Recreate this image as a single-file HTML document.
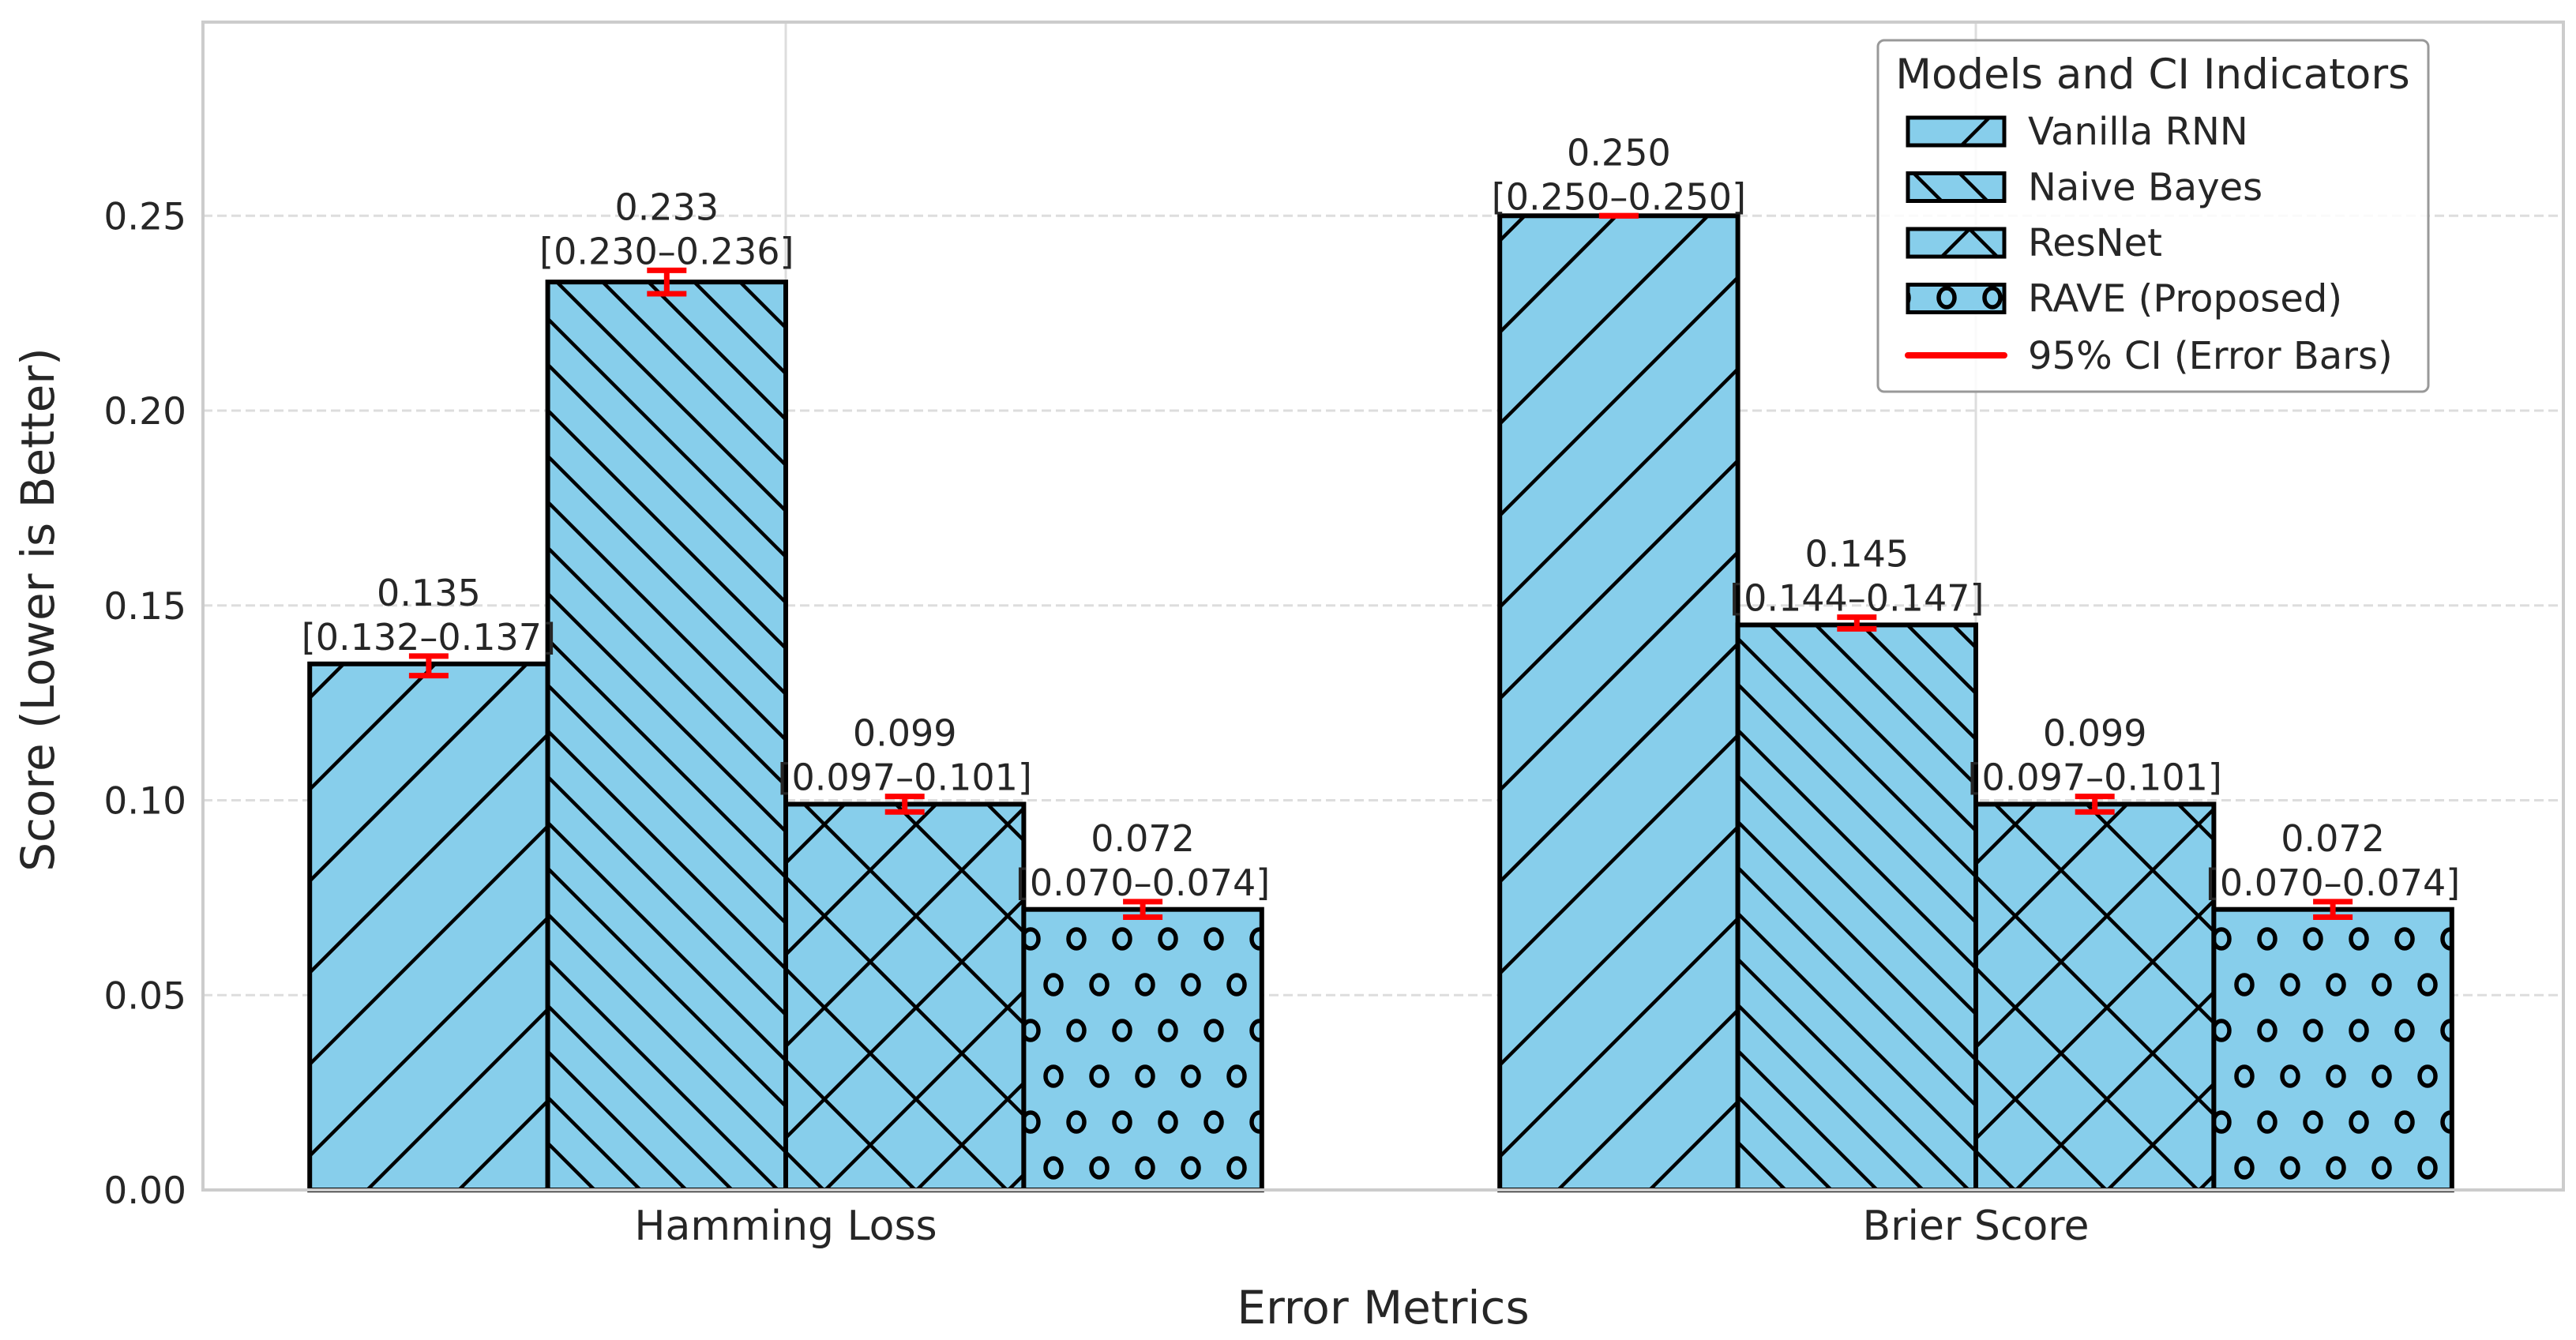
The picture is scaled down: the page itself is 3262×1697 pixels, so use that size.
<!DOCTYPE html>
<html><head><meta charset="utf-8">
<style>
html,body{margin:0;padding:0;background:#fff;}
svg{display:block;font-family:"DejaVu Sans","Liberation Sans",sans-serif;}
</style></head>
<body>
<svg id="chart" width="3262" height="1697" viewBox="0 0 3262 1697" xmlns="http://www.w3.org/2000/svg">
<defs>
<pattern id="h-slash" patternUnits="userSpaceOnUse" width="116" height="116">
<rect width="116" height="116" fill="#87CEEB"/>
<path d="M0,116 L116,0 M-12,12 L12,-12 M104,128 L128,104" stroke="#000" stroke-width="4.5"/>
</pattern>
<pattern id="h-back" patternUnits="userSpaceOnUse" width="58" height="58">
<rect width="58" height="58" fill="#87CEEB"/>
<path d="M0,0 L58,58 M-12,46 L12,70 M46,-12 L70,12" stroke="#000" stroke-width="4.5"/>
</pattern>
<pattern id="h-x" patternUnits="userSpaceOnUse" width="116" height="116">
<rect width="116" height="116" fill="#87CEEB"/>
<path d="M0,116 L116,0 M-12,12 L12,-12 M104,128 L128,104 M0,0 L116,116 M-12,104 L12,128 M104,-12 L128,12" stroke="#000" stroke-width="4.5"/>
</pattern>
<pattern id="h-o" patternUnits="userSpaceOnUse" width="58" height="116">
<rect width="58" height="116" fill="#87CEEB"/>
<ellipse cx="29" cy="29" rx="10" ry="12" fill="none" stroke="#000" stroke-width="5.5"/>
<ellipse cx="0" cy="87" rx="10" ry="12" fill="none" stroke="#000" stroke-width="5.5"/>
<ellipse cx="58" cy="87" rx="10" ry="12" fill="none" stroke="#000" stroke-width="5.5"/>
</pattern>
</defs>
<g id="grid"></g>
<g id="bars"></g>
<g id="labels"></g>
<g id="axes"></g>
<g id="legend"></g>
</svg>
<script>
const categories = ["Hamming Loss", "Brier Score"];
const models = ["Vanilla RNN", "Naive Bayes", "ResNet", "RAVE (Proposed)"];
const valsVanilla = [0.135, 0.250];
const valsNaive = [0.233, 0.145];
const valsResNet = [0.099, 0.099];
const valsRave = [0.072, 0.072];
const loVanilla = [0.132, 0.250], hiVanilla = [0.137, 0.250];
const loNaive = [0.230, 0.144], hiNaive = [0.236, 0.147];
const loResNet = [0.097, 0.097], hiResNet = [0.101, 0.101];
const loRave = [0.070, 0.070], hiRave = [0.074, 0.074];
const yTicks = [0.00, 0.05, 0.10, 0.15, 0.20, 0.25];

const NS = "http://www.w3.org/2000/svg";
const L = 257, R = 3246, T = 28, B = 1507;
const yMax = 0.2997;
function xs(v){ return 995 + v * 1507; }
function ys(v){ return B - v / yMax * (B - T); }
function mk(tag, attrs, parent, text){
  const e = document.createElementNS(NS, tag);
  for (const k in attrs) e.setAttribute(k, attrs[k]);
  if (text !== undefined) e.textContent = text;
  parent.appendChild(e);
  return e;
}
const grid = document.getElementById('grid');
const bars = document.getElementById('bars');
const labels = document.getElementById('labels');
const axes = document.getElementById('axes');
const legend = document.getElementById('legend');

yTicks.forEach(t => {
  if (t > 0) {
    const g = mk('line', {x1:L, x2:R, y1:ys(t), y2:ys(t), stroke:'#dddddd', 'stroke-width':3, 'stroke-dasharray':'12,6'}, grid);
    
    
  }
  const tl = mk('text', {x:236, y:ys(t)+17, 'text-anchor':'end', 'font-size':47, fill:'#262626'}, axes, t.toFixed(2));
  
  
});
categories.forEach((c, i) => {
  const g = mk('line', {x1:xs(i), x2:xs(i), y1:T, y2:B, stroke:'#dddddd', 'stroke-width':3}, grid);
  
  
  const tl = mk('text', {x:xs(i), y:1570, 'text-anchor':'middle', 'font-size':52, fill:'#262626'}, axes, c);
  
  
});

const series = [valsVanilla, valsNaive, valsResNet, valsRave];
const los = [loVanilla, loNaive, loResNet, loRave];
const his = [hiVanilla, hiNaive, hiResNet, hiRave];
const fills = ['url(#h-slash)', 'url(#h-back)', 'url(#h-x)', 'url(#h-o)'];
const bw = 0.2;
categories.forEach((c, i) => {
  series.forEach((s, j) => {
    const x0 = xs(i - 0.4 + j * bw), x1 = xs(i - 0.4 + (j + 1) * bw);
    const v = s[i];
    const r = mk('rect', {x:x0, y:ys(v), width:x1 - x0, height:B - ys(v), fill:fills[j], stroke:'#000', 'stroke-width':6}, bars);
    
    
    const cx = (x0 + x1) / 2;
    const eb = mk('g', {stroke:'#ff0000', 'stroke-width':7}, bars);
    
    
    mk('line', {x1:cx, x2:cx, y1:ys(los[j][i]), y2:ys(his[j][i])}, eb);
    mk('line', {x1:cx - 25, x2:cx + 25, y1:ys(los[j][i]), y2:ys(los[j][i])}, eb);
    mk('line', {x1:cx - 25, x2:cx + 25, y1:ys(his[j][i]), y2:ys(his[j][i])}, eb);
    const yTop = ys(his[j][i]);
    const t1 = mk('text', {x:cx, y:yTop - 64, 'text-anchor':'middle', 'font-size':46, fill:'#262626'}, labels, v.toFixed(3));
    
    
    const t2 = mk('text', {x:cx, y:yTop - 8, 'text-anchor':'middle', 'font-size':46, fill:'#262626'}, labels, '[' + los[j][i].toFixed(3) + '\u2013' + his[j][i].toFixed(3) + ']');
    
    
  });
});

const sp = mk('rect', {x:L, y:T, width:R - L, height:B - T, fill:'none', stroke:'#cccccc', 'stroke-width':4}, axes);


const yt = mk('text', {x:0, y:0, transform:'translate(68,772) rotate(-90)', 'text-anchor':'middle', 'font-size':58, fill:'#262626'}, axes, 'Score (Lower is Better)');


const xt = mk('text', {x:(L + R) / 2, y:1676, 'text-anchor':'middle', 'font-size':58, fill:'#262626'}, axes, 'Error Metrics');



const lb = mk('rect', {x:2378, y:51, width:697, height:445, rx:8, fill:'#ffffff', 'fill-opacity':0.85, stroke:'#999999', 'stroke-width':3}, legend);


const ltl = mk('text', {x:2726, y:112, 'text-anchor':'middle', 'font-size':53, fill:'#262626'}, legend, 'Models and CI Indicators');


models.forEach((m, j) => {
  const y = 149 + j * 70.5;
  const g = mk('g', {}, legend);
  
  
  mk('rect', {x:2416, y:y, width:122, height:35, fill:fills[j], stroke:'#000', 'stroke-width':5}, g);
  mk('text', {x:2568, y:y + 34, 'font-size':48, fill:'#262626'}, g, m);
});
const g5 = mk('g', {}, legend);


mk('line', {x1:2416, x2:2538, y1:450, y2:450, stroke:'#ff0000', 'stroke-width':8, 'stroke-linecap':'round'}, g5);
mk('text', {x:2568, y:467, 'font-size':48, fill:'#262626'}, g5, '95% CI (Error Bars)');
</script>
</body></html>
